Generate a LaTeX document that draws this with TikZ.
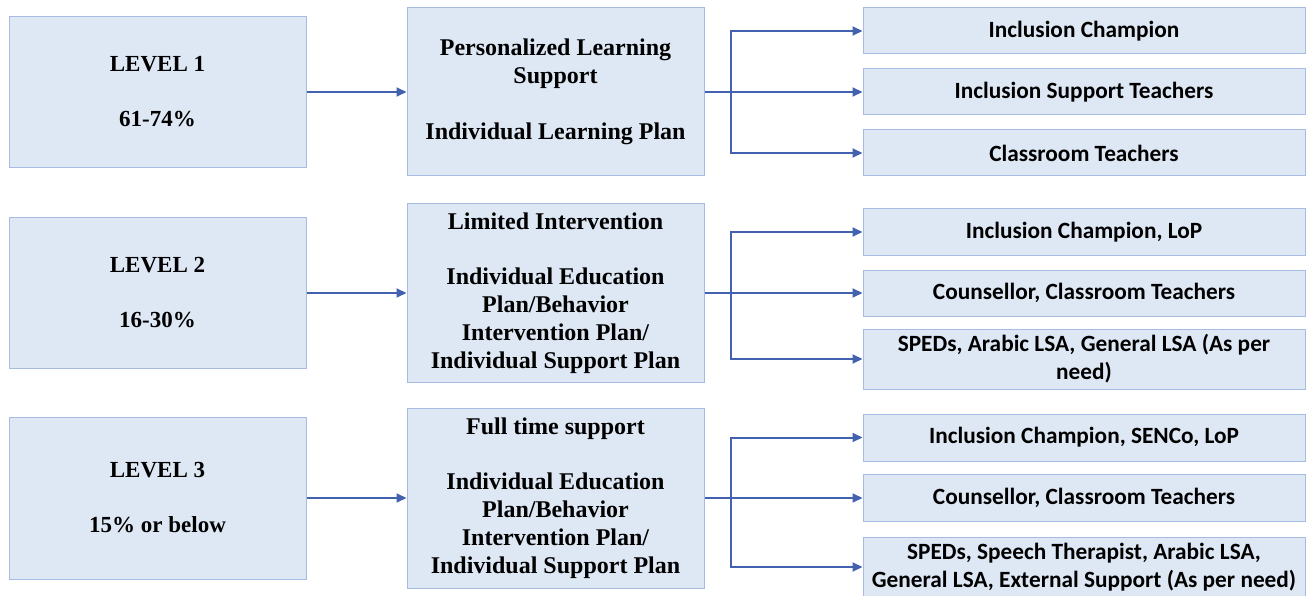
\documentclass[tikz,border=0pt]{standalone}
\usepackage{fontspec}
\setmainfont{Liberation Serif}
\newfontfamily\staffont{Carlito}
\usetikzlibrary{arrows.meta,calc}
\definecolor{boxfill}{HTML}{DEE8F5}
\definecolor{boxline}{HTML}{A8BCE2}
\definecolor{arrowblue}{HTML}{4262B0}

\begin{document}
\begin{tikzpicture}[x=1pt,y=-1pt,>={Triangle[length=10pt,width=9pt]},
  base/.style ={rectangle, draw=boxline, line width=1pt, fill=boxfill, align=center, inner sep=0pt},
  level/.style ={base, minimum width=297pt, font=\fontsize{23}{27.5}\selectfont\bfseries},
  plan/.style ={base, minimum width=297pt, font=\fontsize{24}{27.8}\selectfont\bfseries},
  staff/.style ={base, minimum width=442pt, font=\staffont\fontsize{23.3}{28}\selectfont\bfseries},
  link/.style ={draw=arrowblue, line width=2pt, ->}]
\useasboundingbox (0,0) rectangle (1306,596);
% level boxes
\draw (157.5,92) node[level, minimum height=151pt] (L1) {LEVEL 1\\[27.5pt]61-74\%};
\draw (157.5,293) node[level, minimum height=151pt] (L2) {LEVEL 2\\[27.5pt]16-30\%};
\draw (157.5,498) node[level, minimum height=162pt] (L3) {LEVEL 3\\[27.5pt]15\% or below};
% support plans
\draw (555.5,92) node[plan, minimum height=168pt] (P1) {Personalized Learning\\Support\\[27.8pt]Individual Learning Plan};
\draw (555.5,293) node[plan, minimum height=179pt] (P2) {Limited Intervention\\[27.8pt]Individual Education\\Plan/Behavior\\Intervention Plan/\\Individual Support Plan};
\draw (555.5,498) node[plan, minimum height=180pt] (P3) {Full time support\\[27.8pt]Individual Education\\Plan/Behavior\\Intervention Plan/\\Individual Support Plan};
% staff
\draw (1084,31) node[staff, minimum height=46pt] (S1a) {Inclusion Champion};
\draw (1084,92) node[staff, minimum height=46pt] (S1b) {Inclusion Support Teachers};
\draw (1084,153) node[staff, minimum height=46pt] (S1c) {Classroom Teachers};
\draw (1084,232) node[staff, minimum height=46pt] (S2a) {Inclusion Champion, LoP};
\draw (1084,293) node[staff, minimum height=46pt] (S2b) {Counsellor, Classroom Teachers};
\draw (1084,359) node[staff, minimum height=60pt] (S2c) {SPEDs, Arabic LSA, General LSA (As per\\need)};
\draw (1084,437.5) node[staff, minimum height=47pt] (S3a) {Inclusion Champion, SENCo, LoP};
\draw (1084,498) node[staff, minimum height=47pt] (S3b) {Counsellor, Classroom Teachers};
\draw (1084,567) node[staff, minimum height=60pt] (S3c) {SPEDs, Speech Therapist, Arabic LSA,\\General LSA, External Support (As per need)};
% arrows
\draw [link] (L1.east) -- (L1.east -| P1.west);
\draw [link] (L2.east) -- (L2.east -| P2.west);
\draw [link] (L3.east) -- (L3.east -| P3.west);
\draw [link] (P1.east) -- ++(26,0) |- (S1a.west);
\draw [link] (P1.east) -- (P1.east -| S1b.west);
\draw [link] (P1.east) -- ++(26,0) |- (S1c.west);
\draw [link] (P2.east) -- ++(26,0) |- (S2a.west);
\draw [link] (P2.east) -- (P2.east -| S2b.west);
\draw [link] (P2.east) -- ++(26,0) |- (S2c.west);
\draw [link] (P3.east) -- ++(26,0) |- (S3a.west);
\draw [link] (P3.east) -- (P3.east -| S3b.west);
\draw [link] (P3.east) -- ++(26,0) |- (S3c.west);
\end{tikzpicture}
\end{document}
